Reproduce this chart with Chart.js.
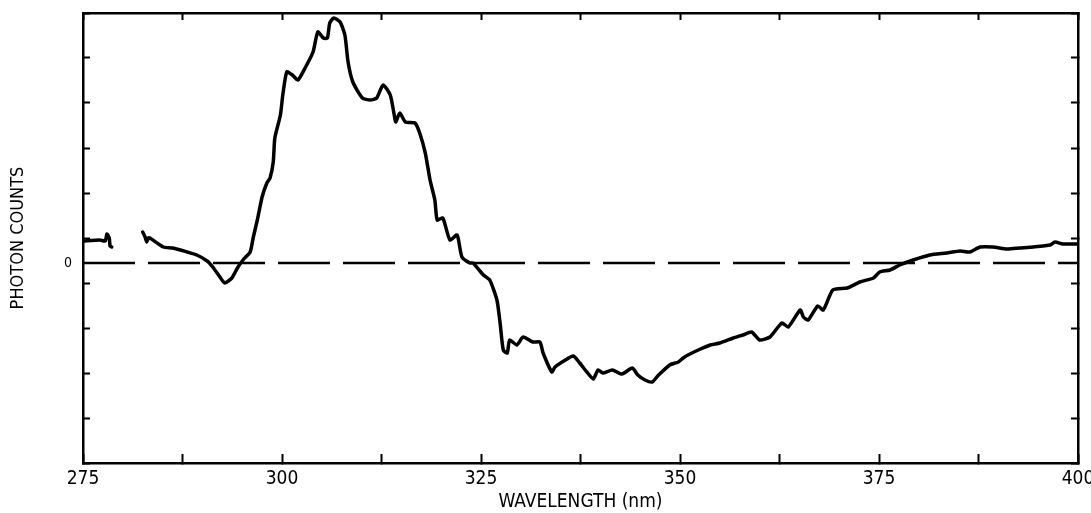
<!DOCTYPE html>
<html>
<head>
<meta charset="utf-8">
<script src="https://cdn.jsdelivr.net/npm/chart.js@4.4.1/dist/chart.umd.min.js"></script>
<style>
  body { margin: 0; background: #fff; }
  canvas { display: block; }
</style>
</head>
<body>
<canvas id="mycanvas" width="1091" height="513"></canvas>
<script>
// wavelength (nm) and photon counts (arbitrary units, 0 = dashed baseline)
var wavelength = [
  275.0, 277.1, 277.8, 278.0, 278.3, 278.4, 278.6, 280.5,
  282.5, 282.8, 283.0, 283.2, 283.4, 285.1, 286.3, 288.1, 289.3, 290.6, 291.3, 292.2,
  292.8, 293.7, 294.4, 295.1, 296.0, 296.4, 296.9, 297.5, 298.1, 298.5, 298.9, 299.1,
  299.8, 300.1, 300.6, 301.3, 302.0, 302.9, 303.9, 304.5, 305.2, 305.7, 306.0, 306.5,
  307.3, 307.9, 308.3, 308.9, 310.1, 311.1, 311.9, 312.7, 313.6, 314.1, 314.3, 314.8,
  315.5, 316.7, 317.3, 318.0, 318.6, 319.2, 319.5, 320.2, 321.1, 322.0, 322.6, 323.6,
  324.0, 325.3, 326.1, 327.0, 327.4, 327.8, 328.3, 328.6, 329.5, 330.3, 331.5, 332.4,
  332.8, 333.9, 334.3, 335.6, 336.6, 337.4, 338.3, 339.1, 339.7, 340.3, 341.5, 342.7,
  344.0, 344.7, 345.6, 346.5, 347.2, 348.7, 349.8, 350.4, 351.0, 352.3, 353.8, 355.0,
  356.7, 357.9, 359.0, 360.0, 361.3, 362.8, 363.6, 365.1, 365.5, 366.1, 367.3, 368.0,
  369.2, 371.0, 372.6, 374.3, 375.1, 376.4, 377.6, 379.3, 381.4, 383.5, 385.2, 386.4,
  387.7, 389.3, 391.1, 392.7, 394.4, 396.5, 397.1, 398.1, 400.0
];
var counts = [
  22, 23, 22, 29, 25, 17, 16, null,
  31, 26, 21, 25, 25, 16, 15, 11, 8, 2, -4, -14,
  -20, -15, -5, 3, 11, 26, 43, 66, 80, 85, 101, 125,
  148, 168, 191, 188, 183, 195, 211, 231, 225, 225, 240, 245,
  241, 228, 201, 181, 165, 163, 165, 178, 168, 148, 141, 150,
  141, 140, 130, 110, 83, 63, 43, 45, 23, 28, 6, 0,
  0, -12, -17, -37, -60, -87, -90, -77, -82, -74, -79, -79,
  -90, -109, -104, -97, -93, -100, -109, -116, -107, -110, -107, -111,
  -105, -112, -117, -119, -113, -102, -99, -95, -92, -87, -82, -80,
  -75, -72, -69, -77, -74, -60, -64, -47, -54, -57, -43, -47,
  -27, -25, -19, -15, -9, -7, -2, 3, 8, 10, 12, 11,
  16, 16, 14, 15, 16, 18, 21, 19, 19
];

var xTicks = [275, 300, 325, 350, 375, 400];
var baseline = [0, 0];

var spectrum = [];
for (var i in wavelength) {
  spectrum.push({ x: wavelength[i], y: counts[i] });
}

Chart.defaults.font.family = "'Liberation Sans Narrow', 'DejaVu Sans Condensed', sans-serif";
Chart.defaults.color = '#000';

// pin every axis box to the size of the original frame, no label overhang padding
function fixSize(w, h) {
  return function(scale) {
    if (w !== null) scale.width = w;
    if (h !== null) scale.height = h;
    scale.paddingLeft = 0;
    scale.paddingRight = 0;
    scale.paddingTop = 0;
    scale.paddingBottom = 0;
  };
}

var xLabel = function(value) {
  return xTicks.indexOf(value) >= 0 ? '' + value : '';
};

var ctx = document.getElementById('mycanvas');

var lineGraph = new Chart(ctx, {
  type: 'line',
  data: {
    datasets: [
      {
        data: spectrum,
        borderColor: '#000',
        borderWidth: 3.5,
        borderJoinStyle: 'round',
        borderCapStyle: 'round',
        pointRadius: 0,
        tension: 0.2,
        spanGaps: false,
        order: 0
      },
      {
        data: [{ x: 275, y: baseline[0] }, { x: 400, y: baseline[1] }],
        borderColor: '#000',
        borderWidth: 2.5,
        borderDash: [52, 13],
        pointRadius: 0,
        order: 1
      }
    ]
  },
  options: {
    responsive: false,
    animation: false,
    devicePixelRatio: 1,
    layout: { padding: 0 },
    plugins: {
      legend: { display: false },
      tooltip: { enabled: false }
    },
    scales: {
      x: {
        type: 'linear',
        position: 'bottom',
        min: 275,
        max: 400,
        grid: { drawOnChartArea: false, tickLength: -9, tickWidth: 2, color: '#000' },
        border: { color: '#000', width: 2.5 },
        ticks: {
          stepSize: 12.5,
          autoSkip: false,
          maxRotation: 0,
          padding: 14,
          font: { size: 19 },
          callback: xLabel
        },
        title: {
          display: true,
          text: 'WAVELENGTH (nm)',
          font: { size: 19 },
          padding: { top: 0, bottom: 0 }
        },
        afterFit: fixSize(null, 50)
      },
      x2: {
        type: 'linear',
        position: 'top',
        min: 275,
        max: 400,
        grid: { drawOnChartArea: false, tickLength: -7, tickWidth: 2, color: '#000' },
        border: { color: '#000', width: 2.5 },
        ticks: {
          stepSize: 12.5,
          autoSkip: false,
          maxRotation: 0,
          callback: function() { return ''; }
        },
        afterFit: fixSize(null, 13)
      },
      y: {
        type: 'linear',
        position: 'left',
        min: -200,
        max: 250,
        grid: {
          drawOnChartArea: false,
          tickLength: -7,
          tickWidth: 2,
          tickColor: function(c) {
            return c.tick && c.tick.value === 0 ? 'rgba(0,0,0,0)' : '#000';
          }
        },
        border: { color: '#000', width: 2.5 },
        ticks: {
          stepSize: 45,
          autoSkip: false,
          padding: 18,
          font: { size: 14 },
          callback: function(value) { return value === 0 ? '0' : ''; }
        },
        afterBuildTicks: function(scale) {
          scale.ticks.push({ value: 0 });
          scale.ticks.sort(function(a, b) { return a.value - b.value; });
        },
        title: {
          display: true,
          text: 'PHOTON COUNTS',
          font: { size: 18 },
          padding: { top: 8, bottom: 0 }
        },
        afterFit: fixSize(83, null)
      },
      y2: {
        type: 'linear',
        position: 'right',
        min: -200,
        max: 250,
        grid: { drawOnChartArea: false, tickLength: -7, tickWidth: 2, color: '#000' },
        border: { color: '#000', width: 2.5 },
        ticks: {
          stepSize: 45,
          autoSkip: false,
          callback: function() { return ''; }
        },
        afterFit: fixSize(13, null)
      }
    }
  }
});
</script>
</body>
</html>
